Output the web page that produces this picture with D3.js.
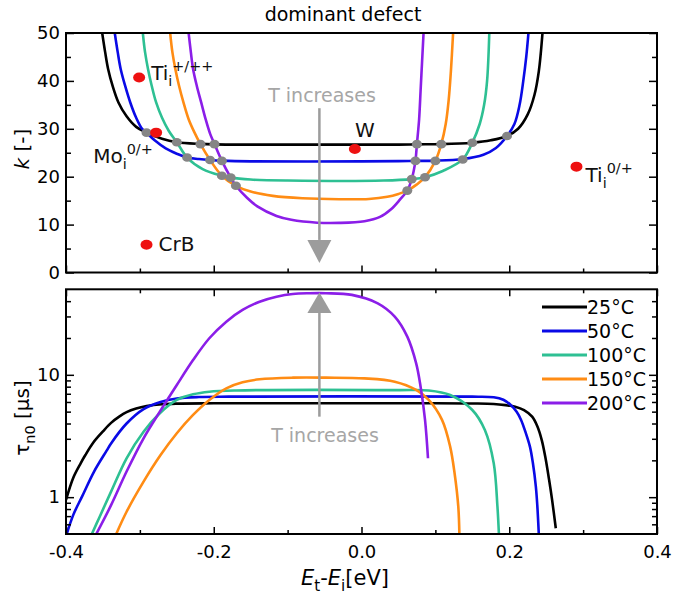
<!DOCTYPE html>
<html><head><meta charset="utf-8">
<script src="https://cdn.jsdelivr.net/npm/d3@7"></script>
<style>
body{margin:0;background:#fff}
svg{display:block}
text{font-family:"DejaVu Sans",Verdana,sans-serif}
</style>
</head><body>
<svg id="c" width="674" height="595"></svg>
<script>
// ---------------- DATA ----------------
const temperatures = ["25°C","50°C","100°C","150°C","200°C"];

// k(Et-Ei) curves, top panel  [E (eV), k]
const k25 = [[-0.351,50],[-0.347,46],[-0.343,42.5],[-0.337,39],[-0.329,35.5],[-0.318,32.6],[-0.305,30.4],[-0.291,29.2],[-0.270,27.9],[-0.250,27.2],[-0.218,26.85],[-0.199,26.75],[-0.150,26.7],[-0.050,26.7],[0.050,26.7],[0.075,26.75],[0.108,26.8],[0.150,27.1],[0.175,27.6],[0.197,28.5],[0.212,30.0],[0.225,33.0],[0.234,37.0],[0.240,42.0],[0.245,50]];
const k50 = [[-0.334,50],[-0.330,46],[-0.326,42.5],[-0.320,39],[-0.313,35.5],[-0.305,32.3],[-0.297,30.0],[-0.291,29.2],[-0.280,27.6],[-0.265,25.9],[-0.250,24.8],[-0.236,24.0],[-0.220,23.7],[-0.205,23.5],[-0.189,23.35],[-0.150,23.2],[0.000,23.2],[0.050,23.25],[0.073,23.3],[0.100,23.35],[0.137,23.7],[0.165,24.6],[0.182,26.0],[0.197,28.5],[0.207,31.0],[0.214,35.0],[0.219,40.0],[0.223,45.0],[0.226,50]];
const k100 = [[-0.296,50],[-0.293,46],[-0.289,42.5],[-0.284,39],[-0.278,35.5],[-0.270,32.3],[-0.261,29.6],[-0.250,27.2],[-0.236,24.0],[-0.215,21.6],[-0.189,20.2],[-0.177,19.8],[-0.150,19.4],[-0.100,19.2],[0.030,19.2],[0.068,19.5],[0.086,19.9],[0.110,21.2],[0.137,23.6],[0.150,27.1],[0.160,31.0],[0.166,35.0],[0.170,40.0],[0.173,50]];
const k150 = [[-0.259,50],[-0.256,46],[-0.252,42.5],[-0.247,39],[-0.241,35.5],[-0.234,32],[-0.226,29.2],[-0.218,26.8],[-0.205,23.5],[-0.189,20.2],[-0.170,18.1],[-0.150,16.9],[-0.120,16.0],[-0.080,15.5],[-0.030,15.3],[0.010,15.35],[0.035,15.8],[0.050,16.4],[0.062,17.1],[0.075,18.4],[0.086,19.9],[0.100,23.3],[0.108,26.8],[0.114,31.0],[0.118,36.0],[0.121,42.0],[0.124,50]];
const k200 = [[-0.234,50],[-0.231,46],[-0.228,42.5],[-0.223,39],[-0.217,35.5],[-0.211,32],[-0.205,29],[-0.199,26.8],[-0.189,23.3],[-0.177,19.8],[-0.170,18.1],[-0.155,15.6],[-0.141,13.8],[-0.115,11.8],[-0.095,11.0],[-0.060,10.4],[-0.030,10.35],[0.004,10.7],[0.025,11.6],[0.040,13.2],[0.052,15.2],[0.062,17.1],[0.068,19.5],[0.073,23.3],[0.075,26.8],[0.078,32],[0.080,38],[0.082,44],[0.084,50]];

// gray crossing points [E, k]
const crossings = [[-0.291,29.2],[-0.250,27.2],[-0.218,26.8],[-0.199,26.8],[-0.236,24.0],[-0.205,23.5],[-0.189,23.3],[-0.189,20.2],[-0.177,19.8],[-0.170,18.1],
                   [0.075,26.8],[0.108,26.8],[0.150,27.1],[0.197,28.5],[0.073,23.3],[0.100,23.3],[0.137,23.6],[0.068,19.5],[0.086,19.9],[0.062,17.1]];

// defects (red points) [name, E, k]
const defectNames = ["Ti+/++","Mo0/+","W","Ti0/+","CrB"];
const defectE = [-0.301,-0.278,-0.009,0.291,-0.291];
const defectK = [40.7,29.2,25.8,22.1,5.8];

// tau_n0(Et-Ei) curves, bottom panel [E (eV), tau (µs)]
const t25 = [[-0.400,0.95],[-0.390,1.45],[-0.380,1.9],[-0.374,2.2],[-0.363,2.8],[-0.350,3.45],[-0.339,4.05],[-0.328,4.55],[-0.318,4.95],[-0.305,5.3],[-0.291,5.55],[-0.270,5.75],[-0.250,5.82],[-0.200,5.85],[0.100,5.85],[0.150,5.83],[0.179,5.78],[0.195,5.65],[0.208,5.49],[0.220,5.15],[0.231,4.55],[0.238,3.8],[0.244,2.93],[0.249,2.1],[0.254,1.38],[0.258,0.95],[0.263,0.557]];
const t50 = [[-0.399,0.5],[-0.390,0.72],[-0.378,1.02],[-0.362,1.62],[-0.345,2.4],[-0.339,2.75],[-0.318,4.0],[-0.295,5.25],[-0.272,6.0],[-0.250,6.4],[-0.220,6.58],[-0.180,6.63],[0.150,6.63],[0.179,6.56],[0.192,6.25],[0.202,5.67],[0.210,5.0],[0.216,4.28],[0.222,3.4],[0.228,2.59],[0.232,1.9],[0.236,1.22],[0.238,0.85],[0.240,0.5]];
const t100 = [[-0.365,0.5],[-0.355,0.68],[-0.339,1.11],[-0.318,2.08],[-0.295,3.43],[-0.273,4.85],[-0.250,6.23],[-0.228,6.93],[-0.206,7.28],[-0.170,7.45],[0.050,7.5],[0.091,7.45],[0.120,6.84],[0.150,5.16],[0.167,3.54],[0.179,1.89],[0.184,0.84],[0.186,0.5]];
const t150 = [[-0.332,0.5],[-0.318,0.76],[-0.295,1.34],[-0.272,2.21],[-0.250,3.33],[-0.228,4.7],[-0.206,6.23],[-0.183,7.76],[-0.161,8.69],[-0.138,9.2],[-0.093,9.48],[-0.048,9.48],[0.004,9.35],[0.045,8.79],[0.074,7.52],[0.091,6.23],[0.109,4.28],[0.120,2.59],[0.126,1.57],[0.131,0.84],[0.1325,0.5]];
const t200 = [[-0.359,0.5],[-0.339,0.86],[-0.318,1.62],[-0.295,3.03],[-0.273,5.0],[-0.250,8.26],[-0.228,13.2],[-0.206,19.9],[-0.183,27.2],[-0.161,33.9],[-0.138,39.6],[-0.115,43.5],[-0.093,45.8],[-0.070,46.4],[-0.048,46.4],[-0.013,45],[0.022,38.4],[0.045,29.9],[0.062,20.5],[0.074,12.4],[0.080,8.0],[0.086,4.28],[0.090,2.08]];

const kSeries = [k25,k50,k100,k150,k200];
const tauSeries = [t25,t50,t100,t150,t200];

const xTicks = [-0.4,-0.2,0.0,0.2,0.4];
const xMinorTicks = [-0.3,-0.1,0.1,0.3];
const kTicks = [0,10,20,30,40,50];
const kMinorTicks = [5,15,25,35,45];
const tauTicks = [1,10];
const tauMinorTicks = [0.6,0.7,0.8,0.9,2,3,4,5,6,7,8,9,20,30,40];
const arrowE = -0.057;

// ---------------- STYLE ----------------
const colors = ["#000000","#0a0ae6","#2ec093","#ff8c14","#8b1ee8"];
const FONT = 18;
const labelStyle = {
  "Ti+/++": {dx:12, dy:2, anchor:"start", parts:[{t:"Ti"},{t:"i",sub:1},{t:"+/++",sup:1}]},
  "Mo0/+": {dx:-63, dy:30, anchor:"start", parts:[{t:"Mo"},{t:"i",sub:1},{t:"0/+",sup:1}]},
  "W":     {dx:10, dy:-12, anchor:"middle", parts:[{t:"W"}]},
  "Ti0/+": {dx:9, dy:15, anchor:"start", parts:[{t:"Ti"},{t:"i",sub:1},{t:"0/+",sup:1}]},
  "CrB":   {dx:12, dy:6.5, anchor:"start", parts:[{t:"CrB"}]}
};

const svg = d3.select("#c");
const X0 = 66, X1 = 657;
const T0 = 33, T1 = 272.5;   // top panel
const B0 = 289.3, B1 = 534;  // bottom panel

const x = d3.scaleLinear([-0.4,0.4],[X0,X1]);
const yk = d3.scaleLinear([0,50],[T1,T0]);
const yt = d3.scaleLog([0.5,50],[B1,B0]);

function rich(sel, parts, size){
  let prev = 0;
  parts.forEach(p=>{
    const off = p.sub ? size*0.3 : (p.sup ? -size*0.42 : 0);
    sel.append("tspan").attr("dy", off-prev)
      .attr("font-size", (p.sub||p.sup) ? size*0.72 : size)
      .attr("font-style", p.it ? "italic" : null)
      .text(p.t);
    prev = off;
  });
}

// clip paths
const defs = svg.append("defs");
defs.append("clipPath").attr("id","clipT").append("rect").attr("x",X0).attr("y",T0).attr("width",X1-X0).attr("height",T1-T0);
defs.append("clipPath").attr("id","clipB").append("rect").attr("x",X0).attr("y",B0).attr("width",X1-X0).attr("height",B1-B0);

const smooth = d3.curveCatmullRom.alpha(0.5);

// ---------- TOP PANEL ----------
const gT = svg.append("g").attr("clip-path","url(#clipT)");
const lineK = d3.line().x(d=>x(d[0])).y(d=>yk(d[1])).curve(smooth);
kSeries.forEach((s,i)=>{
  gT.append("path").attr("d",lineK(s)).attr("fill","none").attr("stroke",colors[i]).attr("stroke-width",2.6);
});
gT.selectAll("ellipse.cross").data(crossings).join("ellipse").attr("class","cross")
  .attr("cx",d=>x(d[0])).attr("cy",d=>yk(d[1])).attr("rx",5).attr("ry",4.3).attr("fill","#858585");

// arrow top
const arrowColor = "#9c9c9c";
svg.append("line").attr("x1",x(arrowE)).attr("x2",x(arrowE)).attr("y1",yk(34.3)).attr("y2",yk(6.8))
  .attr("stroke",arrowColor).attr("stroke-width",2.5);
svg.append("path").attr("d",`M${x(arrowE)-12},${yk(6.8)}L${x(arrowE)+12},${yk(6.8)}L${x(arrowE)},${yk(2.0)}Z`).attr("fill",arrowColor);
svg.append("text").attr("x",322).attr("y",101.5).attr("text-anchor","middle").attr("font-size",19).attr("fill","#a6a6a6").text("T increases");

// defects
defectNames.forEach((n,i)=>{
  const cx = x(defectE[i]), cy = yk(defectK[i]);
  svg.append("ellipse").attr("cx",cx).attr("cy",cy).attr("rx",6).attr("ry",5).attr("fill","#ee1111");
  const st = labelStyle[n];
  const t = svg.append("text").attr("x",cx+st.dx).attr("y",cy+st.dy).attr("text-anchor",st.anchor).attr("font-size",20).attr("fill","#111");
  rich(t, st.parts, 20);
});

// title
svg.append("text").attr("x",343).attr("y",21).attr("text-anchor","middle").attr("font-size",19).text("dominant defect");

// ---------- BOTTOM PANEL ----------
const gB = svg.append("g").attr("clip-path","url(#clipB)");
const lineT = d3.line().x(d=>x(d[0])).y(d=>yt(d[1])).curve(smooth);
tauSeries.forEach((s,i)=>{
  gB.append("path").attr("d",lineT(s)).attr("fill","none").attr("stroke",colors[i]).attr("stroke-width",2.6);
});
svg.append("line").attr("x1",x(arrowE)).attr("x2",x(arrowE)).attr("y1",yt(4.55)).attr("y2",yt(32))
  .attr("stroke",arrowColor).attr("stroke-width",2.5);
svg.append("path").attr("d",`M${x(arrowE)-12},${yt(32)}L${x(arrowE)+12},${yt(32)}L${x(arrowE)},${yt(47)}Z`).attr("fill",arrowColor);
svg.append("text").attr("x",325).attr("y",441.5).attr("text-anchor","middle").attr("font-size",19).attr("fill","#a6a6a6").text("T increases");

// legend
const lg = svg.append("g");
temperatures.forEach((t,i)=>{
  const yy = 307 + i*24;
  lg.append("line").attr("x1",542).attr("x2",587).attr("y1",yy).attr("y2",yy).attr("stroke",colors[i]).attr("stroke-width",3);
  lg.append("text").attr("x",587).attr("y",yy).attr("dy","0.36em").attr("font-size",19).text(t);
});

// ---------- AXES ----------
function styleAxis(g){
  g.select(".domain").remove();
  g.selectAll(".tick line").attr("stroke","#000").attr("stroke-width",1.5);
  g.selectAll(".tick text").attr("font-size",FONT).attr("font-family","DejaVu Sans, Verdana, sans-serif").attr("fill","#000");
  g.attr("font-family",null).attr("font-size",null);
}
function ax(axis, tx, ty){
  const g = svg.append("g").attr("transform",`translate(${tx},${ty})`).call(axis);
  styleAxis(g);
  return g;
}
// top panel
ax(d3.axisLeft(yk).tickValues(kTicks).tickSize(-8).tickPadding(6).tickFormat(d3.format("d")), X0, 0);
ax(d3.axisLeft(yk).tickValues(kMinorTicks).tickSize(-5).tickFormat(""), X0, 0);
ax(d3.axisRight(yk).tickValues(kTicks).tickSize(-8).tickFormat(""), X1, 0);
ax(d3.axisRight(yk).tickValues(kMinorTicks).tickSize(-5).tickFormat(""), X1, 0);
ax(d3.axisBottom(x).tickValues(xTicks).tickSize(-7).tickFormat(""), 0, T1);
ax(d3.axisBottom(x).tickValues(xMinorTicks).tickSize(-4).tickFormat(""), 0, T1);
// bottom panel
ax(d3.axisBottom(x).tickValues(xTicks).tickSize(-7).tickPadding(11).tickFormat(d=>d.toFixed(1)), 0, B1);
ax(d3.axisBottom(x).tickValues(xMinorTicks).tickSize(-4).tickFormat(""), 0, B1);
ax(d3.axisTop(x).tickValues(xTicks).tickSize(-7).tickFormat(""), 0, B0);
ax(d3.axisTop(x).tickValues(xMinorTicks).tickSize(-4).tickFormat(""), 0, B0);
ax(d3.axisLeft(yt).tickValues(tauTicks).tickSize(-8).tickPadding(6).tickFormat(d3.format("d")), X0, 0);
ax(d3.axisLeft(yt).tickValues(tauMinorTicks).tickSize(-5).tickFormat(""), X0, 0);
ax(d3.axisRight(yt).tickValues(tauTicks).tickSize(-8).tickFormat(""), X1, 0);
ax(d3.axisRight(yt).tickValues(tauMinorTicks).tickSize(-5).tickFormat(""), X1, 0);

// frames
svg.append("rect").attr("x",X0).attr("y",T0).attr("width",X1-X0).attr("height",T1-T0).attr("fill","none").attr("stroke","#000").attr("stroke-width",2);
svg.append("rect").attr("x",X0).attr("y",B0).attr("width",X1-X0).attr("height",B1-B0).attr("fill","none").attr("stroke","#000").attr("stroke-width",2);

// axis titles
const kl = svg.append("text").attr("transform","translate(29,149) rotate(-90)").attr("text-anchor","middle").attr("font-size",20);
kl.append("tspan").attr("font-style","italic").text("k");
kl.append("tspan").text(" [-]");
const tl = svg.append("text").attr("transform","translate(29,418) rotate(-90)").attr("text-anchor","middle").attr("font-size",20);
rich(tl, [{t:"τ"},{t:"n0",sub:1},{t:" [µs]"}], 20);
const xl = svg.append("text").attr("x",345).attr("y",585).attr("text-anchor","middle").attr("font-size",21);
rich(xl, [{t:"E",it:1},{t:"t",sub:1},{t:"-"},{t:"E",it:1},{t:"i",sub:1},{t:"[eV]"}], 21);
</script>
</body></html>
